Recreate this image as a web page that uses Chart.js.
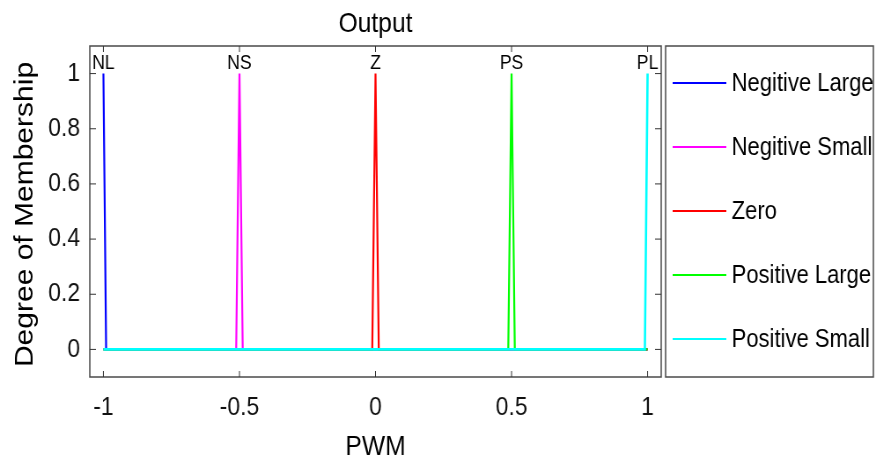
<!DOCTYPE html>
<html>
<head>
<meta charset="utf-8">
<script src="https://cdn.jsdelivr.net/npm/chart.js@4.4.0/dist/chart.umd.min.js"></script>
<style>
  html, body { margin: 0; padding: 0; background: #fff; overflow: hidden; }
  #chart { display: block; }
</style>
</head>
<body>
<!-- drawn 995 wide and squeezed to 876 by css, the source figure is squeezed the same way -->
<canvas id="chart" width="995" height="457" style="width:876px;height:457px"></canvas>
<script>
// membership functions (x, y pairs)
const nlX = [-1, -0.99, 1];
const nlY = [1, 0, 0];
const nsX = [-1, -0.512, -0.5, -0.488, 1];
const nsY = [0, 0, 1, 0, 0];
const zX = [-1, -0.012, 0, 0.012, 1];
const zY = [0, 0, 1, 0, 0];
const psX = [-1, 0.488, 0.5, 0.512, 1];
const psY = [0, 0, 1, 0, 0];
const plX = [-1, 0.99, 1];
const plY = [0, 0, 1];

const seriesNames = ['Negitive Large', 'Negitive Small', 'Zero', 'Positive Large', 'Positive Small'];
const peakLabels = ['NL', 'NS', 'Z', 'PS', 'PL'];
const peakX = [-1, -0.5, 0, 0.5, 1];
const xTicks = [-1, -0.5, 0, 0.5, 1];
const yTicks = [0, 0.2, 0.4, 0.6, 0.8, 1];
const colors = ['#0000ff', '#ff00ff', '#ff0000', '#00ff00', '#00ffff'];

const FONT = '"Liberation Sans", Arial, Helvetica, sans-serif';

function toPoints(xs, ys) {
    return xs.map((v, i) => ({ x: v, y: ys[i] }));
}

const allSeries = [[nlX, nlY], [nsX, nsY], [zX, zY], [psX, psY], [plX, plY]];

const datasets = allSeries.map((s, i) => ({
    label: seriesNames[i],
    data: toPoints(s[0], s[1]),
    showLine: true,
    borderColor: colors[i],
    backgroundColor: colors[i],
    borderWidth: i === allSeries.length - 1 ? 2.6 : 2.2,
    pointRadius: 0,
    tension: 0,
    order: allSeries.length - i   // later series painted on top, like matlab
}));

// box, inward ticks, peak names, titles and the legend
const decorPlugin = {
    id: 'decor',
    afterDraw(chart) {
        const ctx = chart.ctx;
        const a = chart.chartArea;
        const x = chart.scales.x;
        const y = chart.scales.y;
        ctx.save();

        ctx.strokeStyle = '#4a4a4a';
        ctx.lineWidth = 1.5;
        ctx.strokeRect(a.left, a.top, a.right - a.left, a.bottom - a.top);

        ctx.lineWidth = 1;
        ctx.strokeStyle = '#333';
        ctx.beginPath();
        xTicks.forEach(v => {
            const px = x.getPixelForValue(v);
            ctx.moveTo(px, a.bottom); ctx.lineTo(px, a.bottom - 6);
            ctx.moveTo(px, a.top); ctx.lineTo(px, a.top + 6);
        });
        yTicks.forEach(v => {
            const py = y.getPixelForValue(v);
            ctx.moveTo(a.left, py); ctx.lineTo(a.left + 7, py);
            ctx.moveTo(a.right, py); ctx.lineTo(a.right - 7, py);
        });
        ctx.stroke();

        ctx.fillStyle = '#000';
        ctx.textAlign = 'center';
        ctx.textBaseline = 'alphabetic';
        ctx.font = '20px ' + FONT;
        peakLabels.forEach((t, i) => {
            ctx.fillText(t, x.getPixelForValue(peakX[i]), y.getPixelForValue(1) - 5);
        });

        const midX = (a.left + a.right) / 2;
        ctx.font = '28px ' + FONT;
        ctx.fillText('Output', midX, 32);
        ctx.fillText('PWM', midX, 455);

        ctx.save();
        ctx.translate(37, (a.top + a.bottom) / 2 + 3);
        ctx.rotate(-Math.PI / 2);
        ctx.font = '30px ' + FONT;
        ctx.fillText('Degree of Membership', 0, 0);
        ctx.restore();

        // legend
        const lx = 756, lw = 236;
        ctx.strokeStyle = '#4a4a4a';
        ctx.lineWidth = 1.5;
        ctx.strokeRect(lx, a.top, lw, a.bottom - a.top);
        ctx.font = '25px ' + FONT;
        ctx.textAlign = 'left';
        ctx.textBaseline = 'middle';
        chart.data.datasets.forEach((ds, i) => {
            const ly = a.top + 37 + i * 64;
            ctx.strokeStyle = ds.borderColor;
            ctx.lineWidth = 2.2;
            ctx.beginPath();
            ctx.moveTo(764, ly);
            ctx.lineTo(825, ly);
            ctx.stroke();
            ctx.fillStyle = '#000';
            ctx.fillText(ds.label, 831, ly + 1);
        });

        ctx.restore();
    }
};

new Chart(document.getElementById('chart'), {
    type: 'scatter',
    data: { datasets: datasets },
    plugins: [decorPlugin],
    options: {
        responsive: false,
        animation: false,
        events: [],
        layout: { padding: { left: 0, top: 46, right: 244, bottom: 0 } },
        plugins: {
            legend: { display: false },
            title: { display: false },
            tooltip: { enabled: false }
        },
        scales: {
            x: {
                type: 'linear',
                min: -1.05,
                max: 1.05,
                afterBuildTicks: s => { s.ticks = xTicks.map(v => ({ value: v })); },
                afterFit: s => { s.height = 80; },
                grid: { display: false, drawTicks: false },
                border: { display: false },
                ticks: {
                    padding: 15,
                    color: '#111',
                    font: { family: FONT, size: 26 },
                    maxRotation: 0,
                    callback: v => String(v)
                }
            },
            y: {
                type: 'linear',
                min: -0.1,
                max: 1.1,
                afterBuildTicks: s => { s.ticks = yTicks.map(v => ({ value: v })); },
                afterFit: s => { s.width = 102; },
                grid: { display: false, drawTicks: false },
                border: { display: false },
                ticks: {
                    padding: 11,
                    color: '#111',
                    font: { family: FONT, size: 26 },
                    callback: v => String(v)
                }
            }
        }
    }
});
</script>
</body>
</html>
